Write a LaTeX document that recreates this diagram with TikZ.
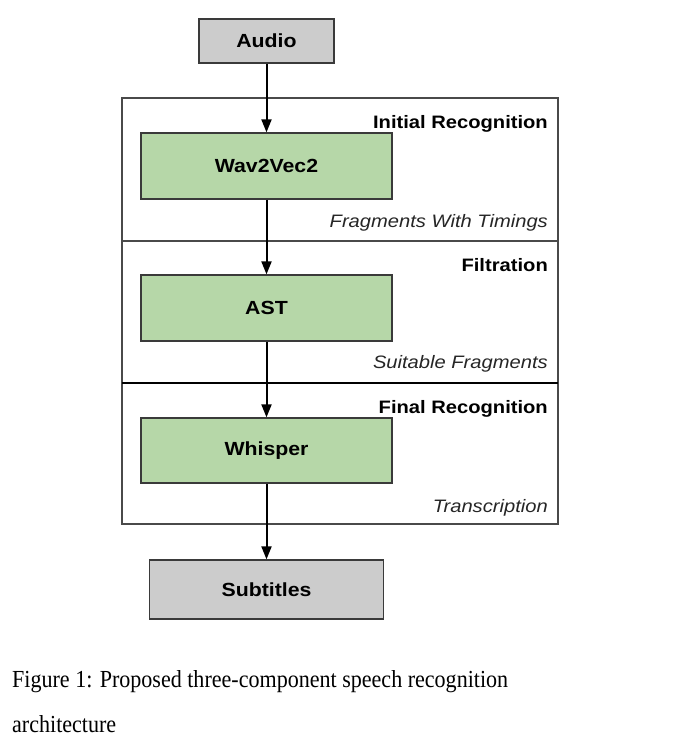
\documentclass[tikz,border=0pt]{standalone}
\usepackage{fontspec}
\setmainfont{Liberation Serif}
\newfontfamily\diagfont[FakeStretch=1.12]{Liberation Sans}
\newfontfamily\capfont[FakeStretch=0.9]{Liberation Serif}
\usetikzlibrary{arrows.meta}
\definecolor{boxgreen}{HTML}{B6D7A8}
\definecolor{boxgray}{HTML}{CCCCCC}
\definecolor{edgecol}{HTML}{3A3A3A}
\definecolor{panelcol}{HTML}{4A4A4A}
\begin{document}
\begin{tikzpicture}[x=1pt,y=-1pt,
  procbox/.style={draw=edgecol, line width=1.3pt, fill=boxgreen, minimum width=251pt, minimum height=66pt, inner sep=0pt, font=\diagfont\fontsize{19}{22}\selectfont\bfseries, text=black},
  iobox/.style={draw=edgecol, line width=1.3pt, fill=boxgray, inner sep=0pt, font=\diagfont\fontsize{19}{22}\selectfont\bfseries, text=black},
  seclabel/.style={anchor=base east, inner sep=0pt, font=\diagfont\fontsize{18}{21}\selectfont\bfseries, text=black},
  sublabel/.style={anchor=base east, inner sep=0pt, font=\diagfont\fontsize{18}{21}\selectfont\itshape, text=black!85},
  flow/.style={draw=black, line width=2pt, -{Triangle[width=10pt,length=13pt]}},
  captext/.style={anchor=base west, inner sep=0pt, font=\capfont\fontsize{24.5}{28}\selectfont, text=black}
]
\useasboundingbox (0,0) rectangle (686,754);
\fill[white] (0,0) rectangle (686,754);

% panel
\draw[panelcol, line width=1.3pt] (122,98) rectangle (558,524);
\draw[panelcol, line width=1.3pt] (122,241) -- (558,241);
\draw[black, line width=2.5pt] (122,383) -- (558,383);

% boxes
\node[iobox, minimum width=135pt, minimum height=44pt] (audio) at (266.5,41) {Audio};
\node[procbox] (wav) at (266.5,166) {Wav2Vec2};
\node[procbox] (ast) at (266.5,308) {AST};
\node[procbox, minimum height=65pt] (whisper) at (266.5,450.5) {Whisper};
\node[iobox, minimum width=234pt, minimum height=59pt] (subs) at (266.5,589.5) {Subtitles};

% section labels
\node[seclabel] (l1) at (548,129) {Initial Recognition};
\node[sublabel] (s1) at (548,227) {Fragments With Timings};
\node[seclabel] (l2) at (548,271) {Filtration};
\node[sublabel] (s2) at (548,368) {Suitable Fragments};
\node[seclabel] (l3) at (548,413) {Final Recognition};
\node[sublabel] (s3) at (548,512) {Transcription};

% arrows
\draw[flow] (audio.south) -- (wav.north);
\draw[flow] (wav.south) -- (ast.north);
\draw[flow] (ast.south) -- (whisper.north);
\draw[flow] (whisper.south) -- (subs.north);

% caption
\node[captext] (cap1) at (12,687) {Figure 1: Proposed three-component speech recognition};
\node[captext] (cap2) at (12,732) {architecture};
\end{tikzpicture}
\end{document}
